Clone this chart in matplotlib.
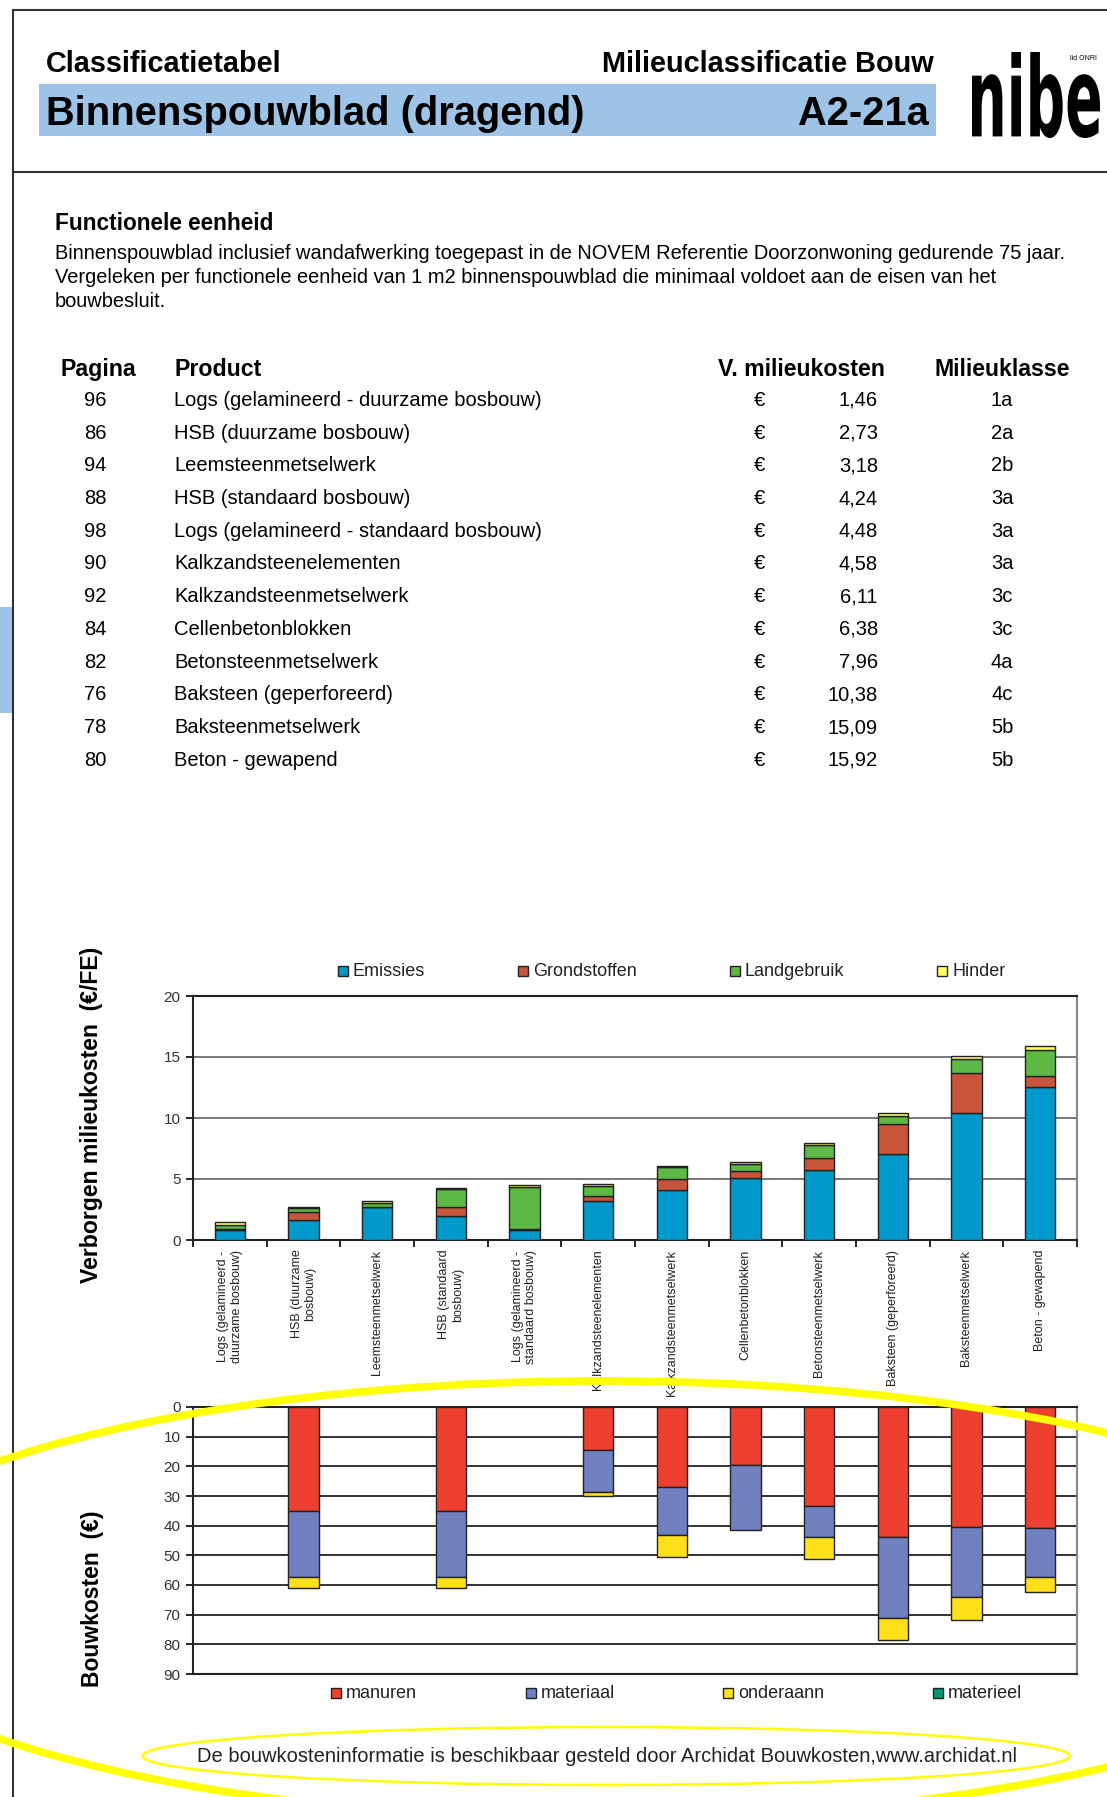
import matplotlib
matplotlib.use("Agg")
import matplotlib.pyplot as plt
from matplotlib.patches import Rectangle, Ellipse, PathPatch
from matplotlib.lines import Line2D
from matplotlib.textpath import TextPath
from matplotlib.font_manager import FontProperties
from matplotlib.transforms import Affine2D
import numpy as np

plt.rcParams['font.family'] = ['Liberation Sans', 'DejaVu Sans']

# table data
pages = [96, 86, 94, 88, 98, 90, 92, 84, 82, 76, 78, 80]
products = ["Logs (gelamineerd - duurzame bosbouw)", "HSB (duurzame bosbouw)",
            "Leemsteenmetselwerk", "HSB (standaard bosbouw)",
            "Logs (gelamineerd - standaard bosbouw)", "Kalkzandsteenelementen",
            "Kalkzandsteenmetselwerk", "Cellenbetonblokken", "Betonsteenmetselwerk",
            "Baksteen (geperforeerd)", "Baksteenmetselwerk", "Beton - gewapend"]
costs = ["1,46", "2,73", "3,18", "4,24", "4,48", "4,58", "6,11", "6,38",
         "7,96", "10,38", "15,09", "15,92"]
classes = ["1a", "2a", "2b", "3a", "3a", "3a", "3c", "3c", "4a", "4c", "5b", "5b"]

# chart x labels
xlabels = ["Logs (gelamineerd -\nduurzame bosbouw)", "HSB (duurzame\nbosbouw)",
           "Leemsteenmetselwerk", "HSB (standaard\nbosbouw)",
           "Logs (gelamineerd -\nstandaard bosbouw)", "Kalkzandsteenelementen",
           "Kalkzandsteenmetselwerk", "Cellenbetonblokken", "Betonsteenmetselwerk",
           "Baksteen (geperforeerd)", "Baksteenmetselwerk", "Beton - gewapend"]

# hidden environmental costs (EUR/FE)
emissies     = [0.78, 1.64, 2.67, 1.96, 0.82, 3.22, 4.07, 5.10, 5.70, 7.01, 10.45, 12.58]
grondstoffen = [0.10, 0.68, 0.06, 0.71, 0.10, 0.35, 0.90, 0.52, 1.04, 2.46, 3.27, 0.87]
landgebruik  = [0.39, 0.27, 0.30, 1.48, 3.40, 0.85, 0.98, 0.57, 1.04, 0.68, 1.10, 2.16]
hinder       = [0.19, 0.14, 0.15, 0.09, 0.16, 0.16, 0.13, 0.19, 0.18, 0.22, 0.27, 0.32]

# building costs (EUR)
manuren   = [0, 35.2, 0, 35.2, 0, 14.6, 27.0, 19.4, 33.5, 43.7, 40.3, 40.8]
materiaal = [0, 22.0, 0, 22.0, 0, 13.9, 16.3, 22.0, 10.4, 27.5, 23.9, 16.4]
onderaann = [0, 3.9, 0, 3.9, 0, 1.4, 7.3, 0, 7.4, 7.3, 7.6, 5.1]
materieel = [0] * 12

W, H = 1107, 1797
fig = plt.figure(figsize=(W / 100, H / 100), dpi=100)


def fx(x):
    return x / W


def fy(y):
    return 1 - y / H


def hline(y, x0, x1, **kw):
    fig.add_artist(Line2D([fx(x0), fx(x1)], [fy(y), fy(y)], transform=fig.transFigure, **kw))


# page frame
hline(10, 13, W, color='#333333', lw=1.5)
hline(172, 13, W, color='#333333', lw=1.5)
fig.add_artist(Line2D([fx(13), fx(13)], [fy(10), fy(H)], transform=fig.transFigure,
                      color='#333333', lw=1.5))
fig.add_artist(Rectangle((0, fy(713)), fx(12), (713 - 607) / H, transform=fig.transFigure,
                         color='#9DC3E6', lw=0))

# header
fig.add_artist(Rectangle((fx(39), fy(136)), (936 - 39) / W, (136 - 84) / H,
                         transform=fig.transFigure, color='#9DC3E6', lw=0))
fig.text(fx(46), fy(72), "Classificatietabel", fontsize=20.8, weight='bold', va='baseline')
fig.text(fx(934), fy(72), "Milieuclassificatie Bouw", fontsize=20.8, weight='bold',
         va='baseline', ha='right')
fig.text(fx(46), fy(125), "Binnenspouwblad (dragend)", fontsize=28.7, weight='bold',
         va='baseline')
fig.text(fx(929), fy(125), "A2-21a", fontsize=28.7, weight='bold', va='baseline', ha='right')

# nibe logo
tp = TextPath((0, 0), "nibe", size=1, prop=FontProperties(family='DejaVu Sans', weight='bold'))
ext = tp.get_extents()
sx = (1100 - 972) / W / ext.width
sy = (138 - 52) / H / ext.height
tr = Affine2D().translate(-ext.x0, -ext.y0).scale(sx, sy).translate(fx(972), fy(138)) + fig.transFigure
fig.add_artist(PathPatch(tp, transform=tr, facecolor='black', lw=0))
fig.text(fx(1083), fy(58), "lid ONRI", fontsize=5, ha='center', va='center')

# functional unit
fig.text(fx(55), fy(230), "Functionele eenheid", fontsize=16.3, weight='bold', va='baseline')
body = ["Binnenspouwblad inclusief wandafwerking toegepast in de NOVEM Referentie Doorzonwoning gedurende 75 jaar.",
        "Vergeleken per functionele eenheid van 1 m2 binnenspouwblad die minimaal voldoet aan de eisen van het",
        "bouwbesluit."]
for i, line in enumerate(body):
    fig.text(fx(55), fy(259 + 24 * i), line, fontsize=14.4, va='baseline')

# table
for label, hx in [("Pagina", 61), ("Product", 174), ("V. milieukosten", 718), ("Milieuklasse", 934)]:
    fig.text(fx(hx), fy(376), label, fontsize=16.7, weight='bold', va='baseline')
for i in range(len(pages)):
    y = fy(406 + 32.7 * i)
    fig.text(fx(95), y, str(pages[i]), fontsize=14.5, va='baseline', ha='center')
    fig.text(fx(174), y, products[i], fontsize=14.5, va='baseline')
    fig.text(fx(759), y, "€", fontsize=14.5, va='baseline', ha='center')
    fig.text(fx(878), y, costs[i], fontsize=14.5, va='baseline', ha='right')
    fig.text(fx(1002), y, classes[i], fontsize=14.5, va='baseline', ha='center')

x = np.arange(12)
bw = 0.41


def stacked(ax, series):
    bottom = np.zeros(12)
    for name, vals, col in series:
        v = np.array(vals, dtype=float)
        m = v > 0
        ax.bar(x[m], v[m], bw, bottom=bottom[m], color=col, edgecolor='#222222', lw=1, zorder=3)
        bottom += v


def style_axes(ax, grid_color):
    ax.set_xlim(-0.5, 11.5)
    ax.yaxis.grid(True, color=grid_color, lw=1.4, zorder=0)
    ax.tick_params(axis='y', length=5, width=1.2, labelsize=11, pad=4, labelcolor='#333333')
    for s in ['left', 'bottom', 'top']:
        ax.spines[s].set_linewidth(1.5)
        ax.spines[s].set_color('#222222')
    ax.spines['right'].set_color('#888888')
    ax.spines['right'].set_linewidth(1.5)


# upper chart
ax1 = fig.add_axes([fx(193), fy(1240), (1077 - 193) / W, (1240 - 996) / H])
upper = [("Emissies", emissies, '#0099CC'), ("Grondstoffen", grondstoffen, '#C8553A'),
         ("Landgebruik", landgebruik, '#5DB846'), ("Hinder", hinder, '#FFFF66')]
stacked(ax1, upper)
style_axes(ax1, '#777777')
ax1.set_ylim(0, 20)
ax1.set_yticks([0, 5, 10, 15, 20])
ax1.set_xticks(x)
ax1.set_xticklabels(xlabels, rotation=90, fontsize=9, va='top', ha='center', color='#222222')
ax1.set_xticks(np.arange(-0.5, 12, 1), minor=True)
ax1.tick_params(axis='x', which='major', length=0, pad=7)
ax1.tick_params(axis='x', which='minor', length=5, width=1.2)

fig.text(fx(92), fy(1115), "Verborgen milieukosten  (€/FE)", rotation=90, fontsize=16.6,
         weight='bold', ha='center', va='center')

leg1_x = [338, 518, 730, 937]
for (name, vals, col), lx in zip(upper, leg1_x):
    fig.add_artist(Rectangle((fx(lx), fy(976)), 10 / W, 10 / H, transform=fig.transFigure,
                             facecolor=col, edgecolor='#222222', lw=1))
    fig.text(fx(lx + 15), fy(971), name, fontsize=13, va='center', color='#222222')

# lower chart
ax2 = fig.add_axes([fx(193), fy(1674), (1077 - 193) / W, (1674 - 1407) / H])
lower = [("manuren", manuren, '#EE4030'), ("materiaal", materiaal, '#7080C0'),
         ("onderaann", onderaann, '#FFE01A'), ("materieel", materieel, '#009977')]
stacked(ax2, lower)
style_axes(ax2, '#333333')
ax2.set_ylim(90, 0)
ax2.set_yticks(np.arange(0, 91, 10))
ax2.set_xticks([])

fig.text(fx(92), fy(1599), "Bouwkosten  (€)", rotation=90, fontsize=16.5,
         weight='bold', ha='center', va='center')

leg2_x = [331, 526, 723, 933]
for (name, vals, col), lx in zip(lower, leg2_x):
    fig.add_artist(Rectangle((fx(lx), fy(1698)), 10 / W, 10 / H, transform=fig.transFigure,
                             facecolor=col, edgecolor='#222222', lw=1))
    fig.text(fx(lx + 15), fy(1693), name, fontsize=13, va='center', color='#222222')

fig.text(fx(607), fy(1756), "De bouwkosteninformatie is beschikbaar gesteld door Archidat Bouwkosten,www.archidat.nl",
         fontsize=14.5, ha='center', va='center', color='#222222')

# yellow marker ellipses
fig.add_artist(Ellipse((fx(603), fy(1600)), 1560 / W, 438 / H, transform=fig.transFigure,
                       fill=False, edgecolor='#FFFF00', lw=5.5, zorder=10))
fig.add_artist(Ellipse((fx(606), fy(1756)), 927 / W, 58 / H, transform=fig.transFigure,
                       fill=False, edgecolor='#FFFF00', lw=1.8, zorder=10))

fig.savefig("out.png", dpi=100)
